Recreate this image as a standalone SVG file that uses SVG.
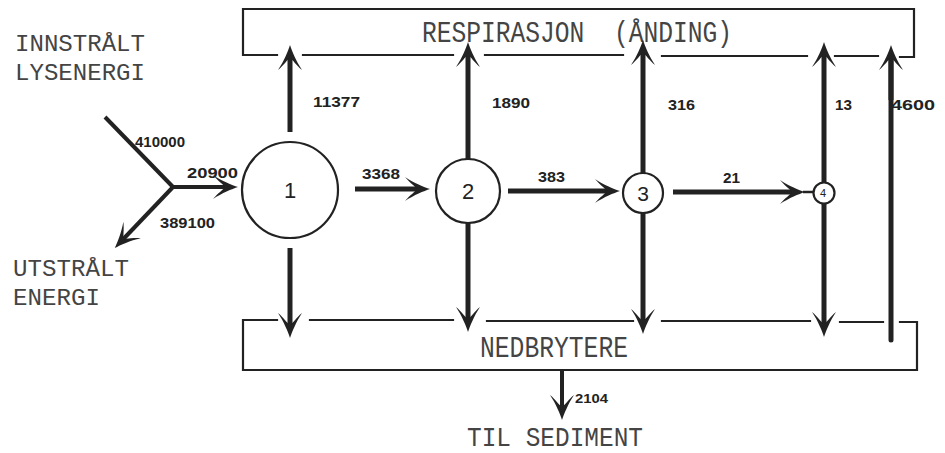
<svg xmlns="http://www.w3.org/2000/svg" width="945" height="453" viewBox="0 0 945 453">
<style>
.bg{fill:#ffffff}
.box{fill:none;stroke:#222;stroke-width:2.2;stroke-linecap:square}
.arr{fill:none;stroke:#222;stroke-width:5;stroke-linecap:butt}
.thin{fill:none;stroke:#222;stroke-width:2.5}
.circ{fill:#fff;stroke:#222;stroke-width:2.2}
.tw{font-family:"Liberation Mono","Courier New",monospace;font-size:30px;fill:#444}
.tl{font-family:"Liberation Mono","Courier New",monospace;font-size:24.5px;fill:#444}
.num{font-family:"Liberation Sans",Arial,sans-serif;font-size:15px;font-weight:bold;fill:#222}
.nid{font-family:"Liberation Sans",Arial,sans-serif;font-size:22px;fill:#222;text-anchor:middle}
</style>
<defs>
<marker id="ah" viewBox="-30 -15 32 30" markerUnits="userSpaceOnUse" markerWidth="32" markerHeight="30" refX="-9" refY="0" orient="auto">
<path d="M0,0 C-6,2 -16,6 -25,12 C-20,6 -15,3 -13,0 C-15,-3 -20,-6 -25,-12 C-16,-6 -6,-2 0,0 Z" fill="#222"/>
</marker>
</defs>
<rect class="bg" x="0" y="0" width="945" height="453"/>

<text class="tl" x="15" y="51" textLength="130" lengthAdjust="spacingAndGlyphs">INNSTRÅLT</text>
<text class="tl" x="15" y="80" textLength="130" lengthAdjust="spacingAndGlyphs">LYSENERGI</text>
<text class="tl" x="13" y="276" textLength="116" lengthAdjust="spacingAndGlyphs">UTSTRÅLT</text>
<text class="tl" x="13" y="305" textLength="87" lengthAdjust="spacingAndGlyphs">ENERGI</text>
<text class="tw" x="467" y="446" style="font-size:27px" textLength="176" lengthAdjust="spacingAndGlyphs">TIL SEDIMENT</text>

<g id="respirasjon">
<path class="box" d="M277,55 H243 V9 H914 V57 H900"/>
<path class="box" d="M303,55 H453 M485,55 H623 M662,56 H807 M835,56 H878"/>
<text class="tw" x="422" y="42" xml:space="preserve" textLength="310" lengthAdjust="spacingAndGlyphs">RESPIRASJON  (ÅNDING)</text>
</g>

<g id="nedbrytere">
<path class="box" d="M277,320 H243 V370 H917 V322 H900"/>
<path class="box" d="M310,320 H453 M487,321 H633 M662,321 H810 M840,322 H883"/>
<text class="tw" x="480" y="357" textLength="148" lengthAdjust="spacingAndGlyphs">NEDBRYTERE</text>
</g>

<g id="connectors">
<path class="arr" style="stroke-width:4" d="M105,117 L173,187"/>
<path class="arr" style="stroke-width:4" d="M173,187 H229" marker-end="url(#ah)"/>
<path class="arr" style="stroke-width:4" d="M173,187 L121,241.5" marker-end="url(#ah)"/>
<path class="arr" d="M290,132 V54" marker-end="url(#ah)"/>
<path class="arr" d="M290,248 V329" marker-end="url(#ah)"/>
<path class="arr" d="M355,189 H421" marker-end="url(#ah)"/>
<path class="arr" d="M468,160 V51" marker-end="url(#ah)"/>
<path class="arr" d="M468,222 V323" marker-end="url(#ah)"/>
<path class="arr" d="M508,191 H611" marker-end="url(#ah)"/>
<path class="arr" d="M643,174 V49" marker-end="url(#ah)"/>
<path class="arr" d="M643,212 V325" marker-end="url(#ah)"/>
<path class="arr" d="M673,192 H796" marker-end="url(#ah)"/>
<path class="thin" d="M803,192 H814"/>
<path class="arr" d="M824,193 V51" marker-end="url(#ah)"/>
<path class="arr" d="M824,193 V328" marker-end="url(#ah)"/>
<path class="arr" style="stroke-linecap:round" d="M891,340 V56"/>
<path class="arr" d="M891,100 V54" marker-end="url(#ah)"/>
<path class="arr" style="stroke-width:4" d="M562,371 V411" marker-end="url(#ah)"/>
</g>

<g id="labels">
<text class="num" x="135" y="147" textLength="50" lengthAdjust="spacingAndGlyphs">410000</text>
<text class="num" x="187" y="178" textLength="51" lengthAdjust="spacingAndGlyphs">20900</text>
<text class="num" x="160" y="228" textLength="55" lengthAdjust="spacingAndGlyphs">389100</text>
<text class="num" x="313" y="107" textLength="47" lengthAdjust="spacingAndGlyphs">11377</text>
<text class="num" x="492" y="108" textLength="38" lengthAdjust="spacingAndGlyphs">1890</text>
<text class="num" x="668" y="110" textLength="27" lengthAdjust="spacingAndGlyphs">316</text>
<text class="num" x="835" y="110" textLength="17" lengthAdjust="spacingAndGlyphs">13</text>
<text class="num" x="891" y="110" textLength="44" lengthAdjust="spacingAndGlyphs">4600</text>
<text class="num" x="362" y="179" textLength="38" lengthAdjust="spacingAndGlyphs">3368</text>
<text class="num" x="538" y="182" textLength="27" lengthAdjust="spacingAndGlyphs">383</text>
<text class="num" x="723" y="183" textLength="17" lengthAdjust="spacingAndGlyphs">21</text>
<text class="num" x="575" y="403" style="font-size:13px" textLength="33" lengthAdjust="spacingAndGlyphs">2104</text>
</g>

<g id="node1"><circle class="circ" cx="290" cy="190" r="48"/><text class="nid" x="290" y="198">1</text></g>
<g id="node2"><circle class="circ" cx="468" cy="191" r="32"/><text class="nid" x="468" y="199">2</text></g>
<g id="node3"><circle class="circ" cx="643" cy="193" r="20"/><text class="nid" x="643" y="201" style="font-size:21px">3</text></g>
<g id="node4"><circle class="circ" cx="824" cy="193" r="10.5"/><text class="nid" x="823" y="197" style="font-size:11px">4</text></g>
</svg>
